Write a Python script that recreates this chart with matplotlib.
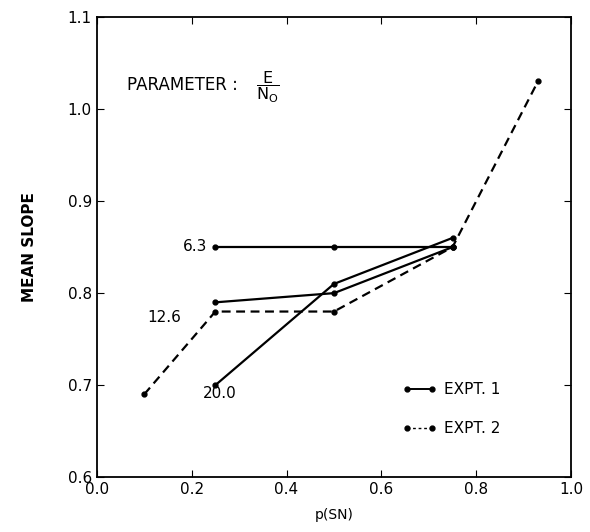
import matplotlib
matplotlib.use("Agg")
import matplotlib.pyplot as plt
from matplotlib.lines import Line2D

# dados
p_sn_e1 = [0.25, 0.5, 0.75]
slope_63 = [0.85, 0.85, 0.85]
slope_126 = [0.79, 0.80, 0.85]
slope_200 = [0.70, 0.81, 0.86]

p_sn_e2 = [0.10, 0.25, 0.5, 0.75, 0.93]
slope_e2 = [0.69, 0.78, 0.78, 0.85, 1.03]

x_ticks = [0.0, 0.2, 0.4, 0.6, 0.8, 1.0]
y_ticks = [0.6, 0.7, 0.8, 0.9, 1.0, 1.1]

plt.rcParams["font.family"] = "DejaVu Sans"
plt.rcParams["mathtext.fontset"] = "dejavusans"

fig = plt.figure(figsize=(5.9, 5.32), dpi=100)
ax = fig.add_axes([0.164, 0.103, 0.804, 0.865])

kw = dict(color="black", lw=1.6, marker="o", ms=3.5)
ax.plot(p_sn_e1, slope_63, ls="-", **kw)
ax.plot(p_sn_e1, slope_126, ls="-", **kw)
ax.plot(p_sn_e1, slope_200, ls="-", **kw)
ax.plot(p_sn_e2, slope_e2, ls=(0, (4, 2.5)), **kw)

# rótulos das curvas (E/N0)
ax.text(0.232, 0.851, "6.3", ha="right", va="center", fontsize=11)
ax.text(0.179, 0.773, "12.6", ha="right", va="center", fontsize=11)
ax.text(0.26, 0.691, "20.0", ha="center", va="center", fontsize=11)

ax.text(0.063, 1.026, "PARAMETER :", ha="left", va="center", fontsize=12)
ax.text(0.335, 1.024, r"$\dfrac{\mathsf{E}}{\mathsf{N_O}}$",
        ha="left", va="center", fontsize=11.5)

handles = [
    Line2D([], [], color="black", lw=1.4, ls="-", marker="o", ms=3.5),
    Line2D([], [], color="black", lw=1.0, ls=(0, (2, 2)), marker="o", ms=3.5),
]
ax.legend(handles, ["EXPT. 1", "EXPT. 2"], loc="center left",
          bbox_to_anchor=(0.645, 0.148), frameon=False, fontsize=11,
          numpoints=2, borderpad=0, borderaxespad=0,
          handlelength=2.2, handletextpad=0.5, labelspacing=1.55)

ax.set_xlim(0.0, 1.0)
ax.set_ylim(0.6, 1.1)
ax.set_xticks(x_ticks)
ax.set_yticks(y_ticks)
ax.set_xticklabels([f"{v:.1f}" for v in x_ticks])
ax.set_yticklabels([f"{v:.1f}" for v in y_ticks])
ax.tick_params(direction="in", top=True, right=True, length=5, labelsize=11)
for s in ax.spines.values():
    s.set_linewidth(1.3)

ax.set_xlabel("p(SN)", fontsize=10, labelpad=8)
ax.set_ylabel("MEAN SLOPE", fontsize=11, fontweight="bold", labelpad=22)

fig.savefig("out.png", dpi=100)
